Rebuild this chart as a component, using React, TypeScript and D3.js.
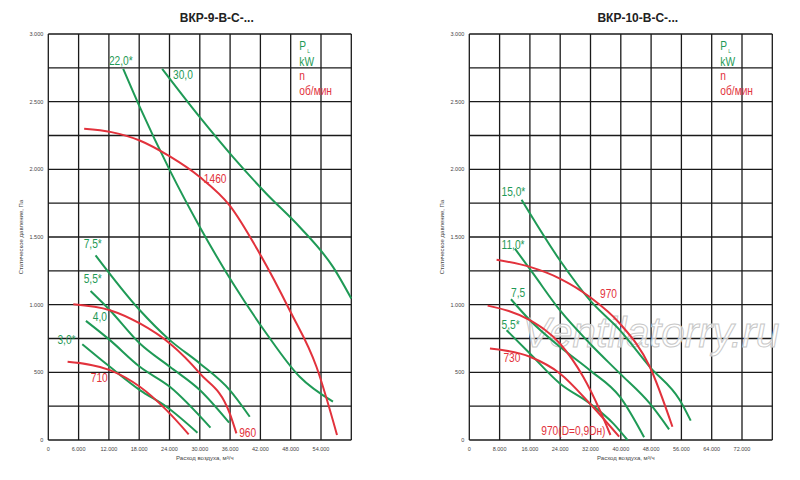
import {useEffect, useRef} from "react";
import * as d3 from "d3";

type Pt = [number, number];

const GREEN = "#1f9a56";
const RED = "#e2323c";

// left chart: ВКР-9-В-С-...
const left_red_1460: Pt[] = [[7100, 2300], [12500, 2275], [18100, 2213], [24070, 2095], [30000, 1943], [35900, 1734], [41870, 1377], [47800, 959], [53100, 541], [57170, 37]];
const left_red_960: Pt[] = [[4950, 1003], [12200, 959], [18130, 861], [24070, 713], [30000, 492], [35930, 197], [37250, 49]];
const left_red_710: Pt[] = [[3820, 578], [12200, 516], [18130, 393], [23400, 221], [27800, 42]];
const left_g_22: Pt[] = [[14830, 2742], [18130, 2459], [24070, 1992], [30000, 1574], [36590, 1156], [43190, 787], [49780, 467], [56370, 283]];
const left_g_30: Pt[] = [[22550, 2742], [30000, 2385], [36590, 2090], [43190, 1820], [49780, 1574], [56370, 1279], [60000, 1045]];
const left_g_75: Pt[] = [[9360, 1365], [18130, 959], [24070, 738], [30000, 566], [35930, 369], [39890, 172]];
const left_g_55: Pt[] = [[8370, 1101], [12200, 959], [18130, 713], [24070, 541], [30000, 369], [35800, 128]];
const left_g_40: Pt[] = [[7450, 880], [12200, 738], [18130, 541], [24070, 393], [32110, 91]];
const left_g_30s: Pt[] = [[6730, 708], [12200, 541], [18130, 369], [23400, 246], [29540, 54]];

// right chart: ВКР-10-В-С-...
const right_red_970: Pt[] = [[7210, 1332], [16000, 1279], [23900, 1193], [31820, 1057], [39740, 861], [47650, 541], [53630, 98]];
const right_red_970d: Pt[] = [[4840, 993], [16000, 885], [23910, 713], [30070, 467], [34460, 221], [37270, 37]];
const right_red_730: Pt[] = [[5450, 676], [16000, 615], [23910, 492], [31820, 270], [39560, 25]];
const right_g_15: Pt[] = [[13800, 1775], [23910, 1328], [31820, 1033], [39740, 812], [47650, 541], [55560, 295], [58460, 143]];
const right_g_11: Pt[] = [[12040, 1414], [16880, 1229], [23910, 959], [31820, 713], [39740, 492], [47650, 270], [52750, 79]];
const right_g_75: Pt[] = [[10990, 1040], [16000, 885], [23910, 689], [31820, 516], [39740, 320], [46150, 20]];
const right_g_55: Pt[] = [[9850, 811], [16000, 639], [23910, 418], [31820, 270], [37980, 123], [41760, 0]];

const leftXTicks = [0, 6000, 12000, 18000, 24000, 30000, 36000, 42000, 48000, 54000];
const rightXTicks = [0, 8000, 16000, 24000, 32000, 40000, 48000, 56000, 64000, 72000];
const yTicks = [0, 500, 1000, 1500, 2000, 2500, 3000];

interface Label { text: string; x: number; y: number; color: string; }

const leftLabels: Label[] = [
    {text: "22,0*", x: 12000, y: 2770, color: GREEN},
    {text: "30,0", x: 24700, y: 2670, color: GREEN},
    {text: "1460", x: 30800, y: 1900, color: RED},
    {text: "7,5*", x: 7000, y: 1420, color: GREEN},
    {text: "5,5*", x: 7000, y: 1160, color: GREEN},
    {text: "4,0", x: 8800, y: 880, color: GREEN},
    {text: "3,0*", x: 1800, y: 710, color: GREEN},
    {text: "710", x: 8400, y: 430, color: RED},
    {text: "960", x: 37800, y: 20, color: RED},
];
const rightLabels: Label[] = [
    {text: "15,0*", x: 8500, y: 1800, color: GREEN},
    {text: "11,0*", x: 8500, y: 1410, color: GREEN},
    {text: "970", x: 34500, y: 1050, color: RED},
    {text: "7,5", x: 11000, y: 1060, color: GREEN},
    {text: "5,5*", x: 8500, y: 820, color: GREEN},
    {text: "730", x: 9000, y: 580, color: RED},
    {text: "970(D=0,9Dн)", x: 19000, y: 40, color: RED},
];

const fmt = (v: number) => v === 0 ? "0" : d3.format(",")(v).replace(/,/g, ".");

function drawChart(g: d3.Selection<SVGGElement, unknown, null, undefined>, opts: {
    x0: number; title: string; xMax: number; xTicks: number[]; xGridStep: number;
    reds: Pt[][]; greens: Pt[][]; labels: Label[]; watermark?: boolean;
}) {
    const top = 34, bottom = 440, w = 303;
    const x = d3.scaleLinear().domain([0, opts.xMax]).range([opts.x0, opts.x0 + w]);
    const y = d3.scaleLinear().domain([0, 3000]).range([bottom, top]);
    const font = "'Liberation Sans', Arial, sans-serif";

    g.append("text").attr("x", opts.x0 + w / 2 + 17).attr("y", 22).attr("text-anchor", "middle")
        .attr("font-family", font).attr("font-weight", "bold").attr("font-size", 12)
        .attr("fill", "#222").text(opts.title);

    // grid
    const grid = g.append("g").attr("stroke", "#1a1a1a").attr("stroke-width", 1.3);
    d3.range(0, opts.xMax + 1, opts.xGridStep).forEach(v => {
        grid.append("line").attr("x1", x(v)).attr("x2", x(v)).attr("y1", top).attr("y2", bottom);
    });
    d3.range(0, 3001, 250).forEach(v => {
        grid.append("line").attr("x1", opts.x0).attr("x2", opts.x0 + w).attr("y1", y(v)).attr("y2", y(v));
    });

    if (opts.watermark) {
        g.append("text").attr("x", x(48000)).attr("y", y(690)).attr("text-anchor", "middle")
            .attr("font-family", font).attr("font-style", "italic").attr("font-size", 42)
            .attr("fill", "white").attr("fill-opacity", 0.7).attr("stroke", "#c8c8c8").attr("stroke-width", 1)
            .text("Ventilatorry.ru");
    }

    const line = d3.line<Pt>().x(d => x(d[0])).y(d => y(d[1])).curve(d3.curveMonotoneX);
    opts.greens.forEach(s => g.append("path").attr("d", line(s)).attr("fill", "none")
        .attr("stroke", GREEN).attr("stroke-width", 2));
    opts.reds.forEach(s => g.append("path").attr("d", line(s)).attr("fill", "none")
        .attr("stroke", RED).attr("stroke-width", 2));

    // labels, horizontally condensed like the original narrow typeface
    opts.labels.forEach(l => g.append("text")
        .attr("transform", `translate(${x(l.x)},${y(l.y)}) scale(0.85,1)`)
        .attr("font-family", font).attr("font-size", 12).attr("fill", l.color).text(l.text));

    // legend
    const lx = opts.x0 + w - 52;
    const leg = g.append("g").attr("font-family", font).attr("font-size", 12);
    const item = (t: string, yy: number, c: string) => leg.append("text")
        .attr("transform", `translate(${lx},${yy}) scale(0.85,1)`).attr("fill", c).text(t);
    item("P", 50, GREEN);
    leg.append("text").attr("x", lx + 8).attr("y", 53).attr("fill", GREEN).attr("font-size", 5).text("L");
    item("kW", 66, GREEN);
    item("n", 80, RED);
    item("об/мин", 95, RED);

    // ticks
    const tk = g.append("g").attr("font-family", font).attr("font-size", 5.5).attr("fill", "#444");
    yTicks.forEach(v => tk.append("text").attr("x", opts.x0 - 5).attr("y", y(v) + 2).attr("text-anchor", "end").text(fmt(v)));
    opts.xTicks.forEach(v => tk.append("text").attr("x", x(v)).attr("y", 451).attr("text-anchor", "middle").text(fmt(v)));
    tk.append("text").attr("x", opts.x0 + w / 2 + 5).attr("y", 460).attr("text-anchor", "middle")
        .attr("font-size", 6).text("Расход воздуха, м³/ч");
    tk.append("text").attr("transform", `translate(${opts.x0 - 25},${y(1500)}) rotate(-90)`)
        .attr("text-anchor", "middle").attr("font-size", 6).text("Статическое давление, Па");
}

export default function App() {
    const ref = useRef<SVGSVGElement>(null);
    useEffect(() => {
        const svg = d3.select(ref.current);
        svg.selectAll("*").remove();
        svg.append("rect").attr("width", 800).attr("height", 480).attr("fill", "white");
        drawChart(svg.append("g"), {
            x0: 48.3, title: "ВКР-9-В-С-...", xMax: 60000, xTicks: leftXTicks, xGridStep: 6000,
            reds: [left_red_1460, left_red_960, left_red_710],
            greens: [left_g_22, left_g_30, left_g_75, left_g_55, left_g_40, left_g_30s],
            labels: leftLabels,
        });
        drawChart(svg.append("g"), {
            x0: 469.3, title: "ВКР-10-В-С-...", xMax: 80000, xTicks: rightXTicks, xGridStep: 8000,
            reds: [right_red_970, right_red_970d, right_red_730],
            greens: [right_g_15, right_g_11, right_g_75, right_g_55],
            labels: rightLabels, watermark: true,
        });
    }, []);
    return <svg ref={ref} width={800} height={480} style={{position: "absolute", left: 0, top: 0}}/>;
}
